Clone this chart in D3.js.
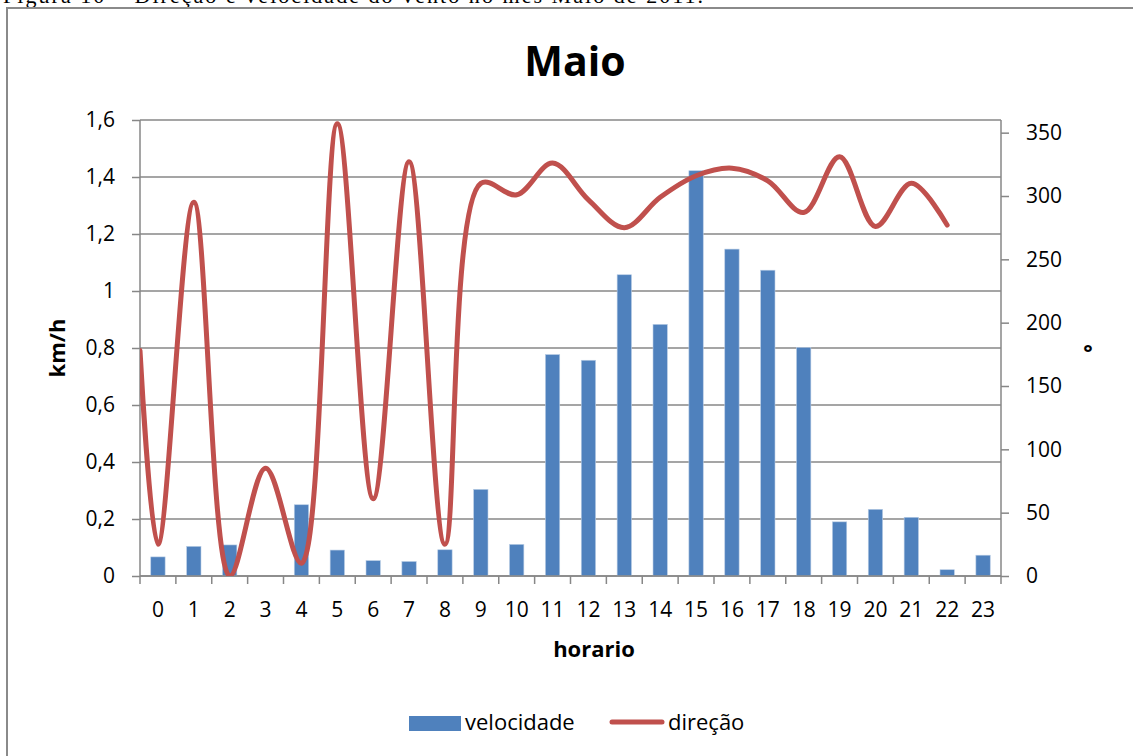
<!DOCTYPE html>
<meta charset="utf-8">
<style>
  body { margin: 0; background: #fff; }
  text { font-family: "Open Sans", sans-serif; fill: #000; }
</style>
<body>
<script src="https://d3js.org/d3.v7.min.js"></script>
<script>

  // hours of the day
  let hours = ["0", "1", "2", "3", "4", "5", "6", "7", "8", "9", "10", "11",
    "12", "13", "14", "15", "16", "17", "18", "19", "20", "21", "22", "23"];

  // wind speed, km/h
  let velocidade = [0.067, 0.104, 0.109, 0, 0.25, 0.091, 0.054, 0.051, 0.092, 0.304, 0.111, 0.777,
    0.757, 1.057, 0.883, 1.422, 1.147, 1.073, 0.802, 0.19, 0.234, 0.206, 0.022, 0.073];

  // wind direction, degrees (no value at 23h)
  let direcao = [25, 295, 0, 85, 10, 357, 61, 327, 25, 310, 301, 326,
    297, 275, 299, 316, 322, 312, 287, 331, 276, 310, 277, null];

  // the red curve already enters the plot at its left edge with this value
  let direcaoEntrada = 178;

  let leftTicks = [0, 0.2, 0.4, 0.6, 0.8, 1, 1.2, 1.4, 1.6],
    rightTicks = [0, 50, 100, 150, 200, 250, 300, 350];

  let width = 1133,
    height = 756,
    plot = {left: 140, right: 1001, top: 120, bottom: 576};

  let blue = "#4f81bd",
    red = "#c0504d",
    grid = "#878787";

  let svg = d3.select("body").append("svg")
    .attr("width", width)
    .attr("height", height);

  // outer frame and cut caption of the source document
  svg.append("text")
    .attr("x", 3)
    .attr("y", 3)
    .attr("textLength", 700)
    .style("font-family", "'Liberation Serif', serif")
    .style("font-size", "22px")
    .text("Figura 10 – Direção e velocidade do vento no mês Maio de 2011.");

  svg.append("rect")
    .attr("x", 7)
    .attr("y", 8)
    .attr("width", 1200)
    .attr("height", 800)
    .attr("fill", "none")
    .attr("stroke", "#8a8a8a")
    .attr("stroke-width", 2);

  let x = d3.scaleBand()
    .domain(hours)
    .range([plot.left, plot.right])
    .padding(0);

  let yLeft = d3.scaleLinear()
    .domain([0, 1.6])
    .range([plot.bottom, plot.top]);

  let yRight = d3.scaleLinear()
    .domain([0, 360])
    .range([plot.bottom, plot.top]);

  let fmt = d => String(d).replace(".", ",");

  // gridlines
  svg.append("g")
    .selectAll("line")
    .data(leftTicks)
    .enter().append("line")
    .attr("x1", plot.left)
    .attr("x2", plot.right)
    .attr("y1", d => yLeft(d))
    .attr("y2", d => yLeft(d))
    .attr("stroke", grid)
    .attr("stroke-width", 1.5);

  // bars
  let bw = x.bandwidth() / 2.5;
  svg.append("g")
    .selectAll("rect")
    .data(velocidade)
    .enter().append("rect")
    .attr("x", (d, i) => x(hours[i]) + (x.bandwidth() - bw) / 2)
    .attr("y", d => yLeft(d))
    .attr("width", bw)
    .attr("height", d => yLeft(0) - yLeft(d))
    .attr("fill", blue)
    .attr("stroke", "#b9cde5")
    .attr("stroke-width", 0.6);

  // axes
  let leftAxis = svg.append("g")
    .attr("transform", "translate(" + plot.left + ",0)")
    .call(d3.axisLeft(yLeft).tickValues(leftTicks).tickFormat(fmt).tickSize(8).tickPadding(17));

  let rightAxis = svg.append("g")
    .attr("transform", "translate(" + plot.right + ",0)")
    .call(d3.axisRight(yRight).tickValues(rightTicks).tickSize(8).tickPadding(17));

  let bottomAxis = svg.append("g")
    .attr("transform", "translate(0," + plot.bottom + ")")
    .call(d3.axisBottom(x).tickSize(0).tickPadding(26));

  // category boundary ticks on the x axis
  svg.append("g")
    .selectAll("line")
    .data(hours.concat(["end"]))
    .enter().append("line")
    .attr("x1", (d, i) => plot.left + i * x.bandwidth())
    .attr("x2", (d, i) => plot.left + i * x.bandwidth())
    .attr("y1", plot.bottom)
    .attr("y2", plot.bottom + 8)
    .attr("stroke", grid)
    .attr("stroke-width", 1.5);

  [leftAxis, rightAxis, bottomAxis].forEach(function(g) {
    g.selectAll(".domain").attr("stroke", grid).attr("stroke-width", 1.5);
    g.selectAll(".tick line").attr("stroke", grid).attr("stroke-width", 1.5);
    g.selectAll("text")
      .style("font-family", "'Open Sans', sans-serif")
      .style("font-size", "21px")
      .attr("fill", "#000");
  });
  leftAxis.select(".domain").attr("d", "M0," + plot.bottom + "V" + plot.top);
  rightAxis.select(".domain").attr("d", "M0," + plot.bottom + "V" + plot.top);
  bottomAxis.select(".domain").attr("d", "M" + plot.left + ",0H" + plot.right);

  // direction line
  svg.append("clipPath")
    .attr("id", "plotclip")
    .append("rect")
    .attr("x", plot.left)
    .attr("y", plot.top - 10)
    .attr("width", plot.right - plot.left)
    .attr("height", plot.bottom - plot.top + 10);

  let pts = [[plot.left, yRight(direcaoEntrada)]];
  direcao.forEach(function(d, i) {
    if (d != null) pts.push([x(hours[i]) + x.bandwidth() / 2, yRight(d)]);
  });

  let line = d3.line().curve(d3.curveCatmullRom.alpha(0.5));

  svg.append("path")
    .attr("d", line(pts))
    .attr("clip-path", "url(#plotclip)")
    .attr("fill", "none")
    .attr("stroke", red)
    .attr("stroke-width", 5)
    .attr("stroke-linecap", "round")
    .attr("stroke-linejoin", "round");

  // titles
  svg.append("text")
    .attr("x", 575)
    .attr("y", 76)
    .attr("text-anchor", "middle")
    .style("font-size", "41px")
    .style("font-weight", "bold")
    .text("Maio");

  svg.append("text")
    .attr("transform", "translate(65,348) rotate(-90)")
    .attr("text-anchor", "middle")
    .style("font-size", "22px")
    .style("font-weight", "bold")
    .text("km/h");

  svg.append("text")
    .attr("x", 1088)
    .attr("y", 360)
    .attr("text-anchor", "middle")
    .style("font-size", "22px")
    .style("font-weight", "bold")
    .text("°");

  svg.append("text")
    .attr("x", 594)
    .attr("y", 657)
    .attr("text-anchor", "middle")
    .style("font-size", "22px")
    .style("font-weight", "bold")
    .text("horario");

  // legend
  let legend = svg.append("g");
  legend.append("rect")
    .attr("x", 409)
    .attr("y", 716)
    .attr("width", 52)
    .attr("height", 15)
    .attr("fill", blue);
  legend.append("text")
    .attr("x", 465)
    .attr("y", 730)
    .style("font-size", "22px")
    .text("velocidade");
  legend.append("line")
    .attr("x1", 612)
    .attr("x2", 662)
    .attr("y1", 722)
    .attr("y2", 722)
    .attr("stroke", red)
    .attr("stroke-width", 5)
    .attr("stroke-linecap", "round");
  legend.append("text")
    .attr("x", 668)
    .attr("y", 730)
    .style("font-size", "22px")
    .text("direção");

</script>
